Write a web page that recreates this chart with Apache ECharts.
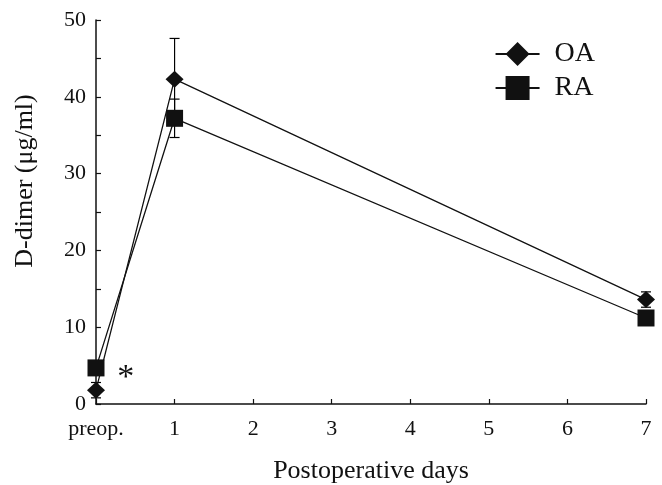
<!DOCTYPE html>
<html>
<head>
<meta charset="utf-8">
<script src="https://cdn.jsdelivr.net/npm/echarts@6/dist/echarts.min.js"></script>
<style>html,body{margin:0;padding:0;background:#fff;}#c{width:662px;height:485px;}</style>
</head>
<body>
<div id="c"></div>
<script>
var days = [0, 1, 7];
var tickLabels = {0: 'preop.', 1: '1', 2: '2', 3: '3', 4: '4', 5: '5', 6: '6', 7: '7'};
var oaMean = [1.8, 42.3, 13.6];
var oaSD = [1.0, 5.3, 1.0];
var raMean = [4.7, 37.2, 11.2];
var raSD = [0.6, 2.5, 0.8];
var seriesNames = ['OA', 'RA'];

var FONT = 'Liberation Serif';
var chart = echarts.init(document.getElementById('c'), null, {renderer: 'canvas'});

function pts(m) { return days.map(function (d, i) { return [d, m[i]]; }); }
function errData(m, s) { return days.map(function (d, i) { return [d, m[i] - s[i], m[i] + s[i]]; }); }

function errRender(params, api) {
  var x = api.value(0);
  var lo = api.coord([x, api.value(1)]);
  var hi = api.coord([x, api.value(2)]);
  var w = 5;
  var st = {stroke: '#000', lineWidth: 1.2};
  return {
    type: 'group',
    children: [
      {type: 'line', shape: {x1: lo[0], y1: lo[1], x2: hi[0], y2: hi[1]}, style: st},
      {type: 'line', shape: {x1: hi[0] - w, y1: hi[1], x2: hi[0] + w, y2: hi[1]}, style: st},
      {type: 'line', shape: {x1: lo[0] - w, y1: lo[1], x2: lo[0] + w, y2: lo[1]}, style: st}
    ]
  };
}

chart.setOption({
  animation: false,
  backgroundColor: '#fff',
  textStyle: {fontFamily: FONT, color: '#111'},
  grid: {left: 96, right: 16, top: 20, bottom: 81, containLabel: false, outerBoundsMode: 'none'},
  legend: {
    data: seriesNames,
    orient: 'vertical',
    right: 62,
    top: 35,
    itemWidth: 44,
    itemHeight: 30,
    itemGap: 6,
    textStyle: {fontFamily: FONT, fontSize: 28, color: '#111', padding: [0, 0, 0, 10]}
  },
  xAxis: {
    type: 'value',
    min: 0, max: 7, interval: 1,
    name: 'Postoperative days',
    nameLocation: 'middle',
    nameGap: 54,
    nameTextStyle: {fontFamily: FONT, fontSize: 26, color: '#111'},
    axisLine: {lineStyle: {color: '#111', width: 1.5}},
    axisTick: {inside: true, length: 5, lineStyle: {color: '#111', width: 1.2}},
    axisLabel: {fontFamily: FONT, fontSize: 22, color: '#111', margin: 14,
      formatter: function (v) { return tickLabels[v]; }},
    splitLine: {show: false}
  },
  yAxis: {
    type: 'value',
    min: 0, max: 50, interval: 10,
    name: 'D-dimer (\u03bcg/ml)',
    nameLocation: 'middle',
    nameGap: 58,
    nameTextStyle: {fontFamily: FONT, fontSize: 26, color: '#111', padding: [0, 0, 0, 62]},
    axisLine: {show: true, lineStyle: {color: '#111', width: 1.5}},
    axisTick: {inside: true, length: 5, lineStyle: {color: '#111', width: 1.2}},
    minorTick: {show: true, splitNumber: 2, length: 5, lineStyle: {color: '#111', width: 1.2}},
    axisLabel: {fontFamily: FONT, fontSize: 22, color: '#111', margin: 10},
    splitLine: {show: false}
  },
  series: [
    {type: 'custom', name: 'OA err', data: errData(oaMean, oaSD), renderItem: errRender, z: 1, silent: true},
    {type: 'custom', name: 'RA err', data: errData(raMean, raSD), renderItem: errRender, z: 1, silent: true},
    {
      type: 'line', name: 'OA', data: pts(oaMean), symbol: 'diamond', symbolSize: [18, 17],
      lineStyle: {color: '#111', width: 1.3}, itemStyle: {color: '#111'}, z: 3
    },
    {
      type: 'line', name: 'RA', data: pts(raMean), symbol: 'rect', symbolSize: 17,
      lineStyle: {color: '#111', width: 1.3}, itemStyle: {color: '#111'}, z: 3,
      markPoint: {
        symbol: 'circle', symbolSize: 1, itemStyle: {color: 'rgba(0,0,0,0)'},
        data: [{coord: [0.38, 3.4], value: '*'}],
        label: {show: true, position: 'inside', formatter: '*', fontFamily: FONT, fontSize: 34, color: '#111'}
      }
    }
  ]
});
</script>
</body>
</html>
